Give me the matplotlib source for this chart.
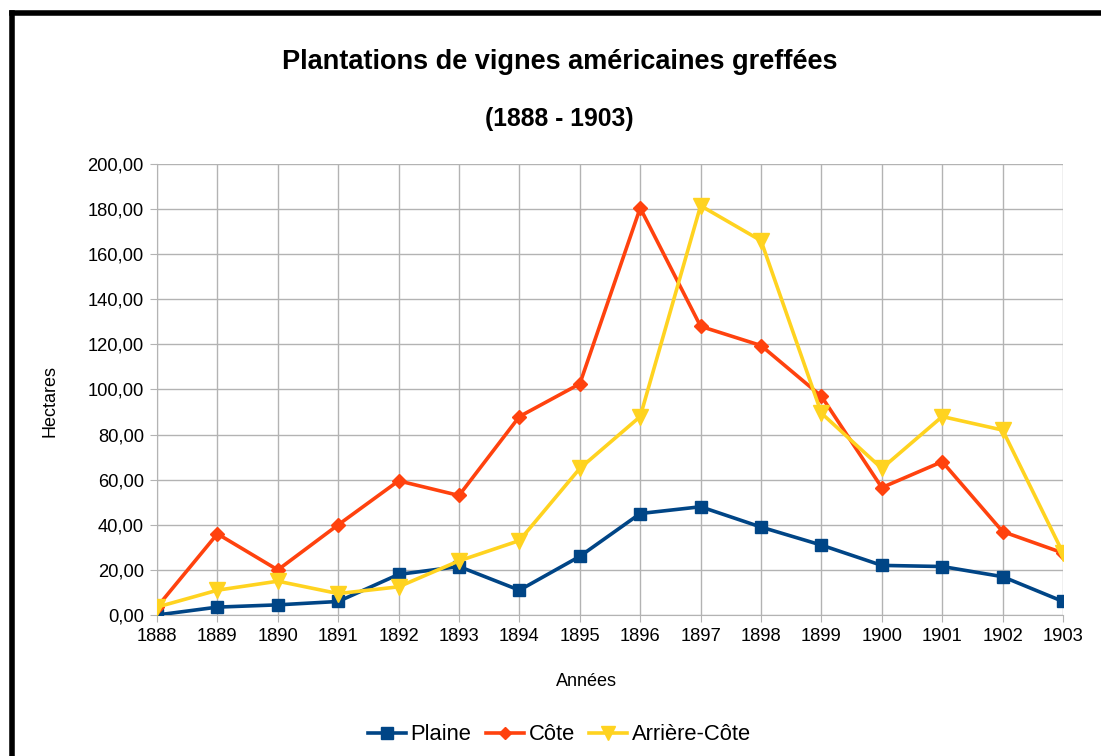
import matplotlib.pyplot as plt
from matplotlib.ticker import FuncFormatter

plt.rcParams['font.family'] = ['Liberation Sans', 'DejaVu Sans']

# Surfaces plantées (hectares) par année
annees = list(range(1888, 1904))
plaine = [0, 3.5, 4.5, 6, 18, 21.5, 11, 26, 45, 48, 39, 31, 22, 21.5, 17, 6]
cote = [3.5, 36, 20, 40, 59.5, 53, 88, 102.5, 180.5, 128, 119.5, 97, 56.5, 68, 37, 27.5]
arriere_cote = [3.5, 11, 15, 9.5, 12.5, 24, 33, 65, 88, 181.5, 166, 89.5, 65, 88, 82, 27.5]

fig = plt.figure(figsize=(11.01, 7.56), dpi=100)
ax = fig.add_axes([0.1426, 0.1865, 0.8229, 0.5966])

ax.plot(annees, plaine, color='#004586', lw=2.6, marker='s', ms=9, label='Plaine', zorder=3)
ax.plot(annees, cote, color='#ff420e', lw=2.6, marker='D', ms=7, label='Côte', zorder=4)
ax.plot(annees, arriere_cote, color='#ffd320', lw=2.6, marker='v', ms=11, label='Arrière-Côte', zorder=5)

ax.set_xlim(1888, 1903)
ax.set_ylim(0, 200)
ax.set_xticks(annees)
ax.set_yticks(range(0, 201, 20))
ax.yaxis.set_major_formatter(FuncFormatter(lambda v, p: f'{v:.2f}'.replace('.', ',')))
ax.grid(True, color='#b3b3b3', lw=1)
ax.set_axisbelow(True)
for s in ['top', 'right']:
    ax.spines[s].set_visible(False)
for s in ['left', 'bottom']:
    ax.spines[s].set_color('#b3b3b3')
ax.tick_params(axis='both', colors='#b3b3b3', labelcolor='black', labelsize=13.2, length=5, pad=4.5)

# titres des axes
fig.text(0.533, 0.098, 'Années', ha='center', va='center', fontsize=13)
fig.text(0.0455, 0.47, 'Hectares', ha='center', va='center', rotation=90, fontsize=13)

fig.text(0.508, 0.918, 'Plantations de vignes américaines greffées', ha='center', va='center',
         fontsize=19.5, fontweight='bold')
fig.text(0.508, 0.842, '(1888 - 1903)', ha='center', va='center', fontsize=17.8, fontweight='bold')

fig.legend(loc='center', bbox_to_anchor=(0.508, 0.028), ncol=3, frameon=False, fontsize=15.8,
           handlelength=1.75, columnspacing=0.65, handletextpad=0.2, markerscale=0.9)

# cadre noir (haut et gauche)
fig.add_artist(plt.Line2D([0.0109, 1.0], [0.9828, 0.9828], color='black', lw=4, transform=fig.transFigure))
fig.add_artist(plt.Line2D([0.0109, 0.0109], [0.0, 0.9828], color='black', lw=4, transform=fig.transFigure))

fig.savefig('out.png', dpi=100)
